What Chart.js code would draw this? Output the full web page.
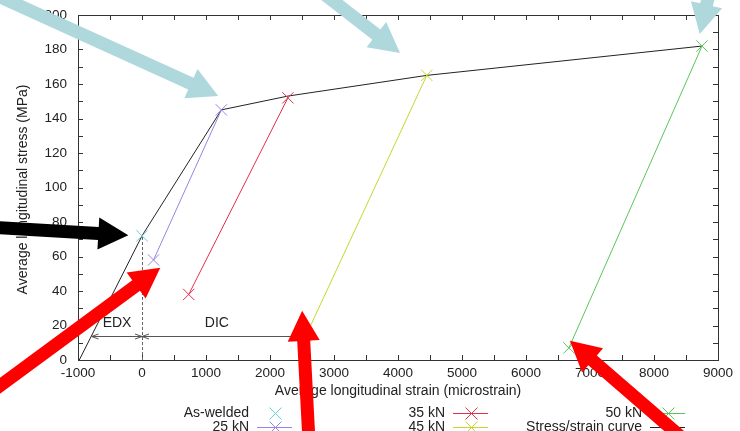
<!DOCTYPE html>
<html>
<head>
<meta charset="utf-8">
<script src="https://cdn.jsdelivr.net/npm/chart.js@4/dist/chart.umd.min.js"></script>
<style>
  html, body { margin: 0; padding: 0; background: #fff; }
  canvas { display: block; }
</style>
</head>
<body>
<canvas id="stressChart" width="740" height="431"></canvas>
<script>
// values (strain in microstrain, stress in MPa)
const asWeldedX = [0];
const asWeldedY = [72];
const kn25X = [180, 1240];
const kn25Y = [58, 145];
const kn35X = [730, 2280];
const kn35Y = [38, 152];
const kn45X = [2560, 4450];
const kn45Y = [14, 165];
const kn50X = [6670, 8750];
const kn50Y = [7, 182];
const curveX = [-980, 0, 1240, 2280, 4450, 8750];
const curveY = [0, 72, 145, 153, 165, 182];

const seriesLabels = ["As-welded", "25 kN", "35 kN", "45 kN", "50 kN", "Stress/strain curve"];
const seriesColors = ["#66cfdc", "#9585e0", "#e3304c", "#c6d62e", "#5cc45c", "#222222"];

const xTicks = { min: -1000, max: 9000, step: 500, labelEvery: 1000 };
const yTicks = { min: 0, max: 200, step: 10, labelEvery: 20 };

// EDX / DIC dimension line
const dimY = 14;
const edxRange = [-789, 0];
const dicRange = [0, 2560];

// overlaid pointer arrows, in data units
const pointers = [
    { from: [-2368, 213], to: [1191, 153], color: "#aed8dc" },
    { from: [2783, 214], to: [4032, 178], color: "#aed8dc" },
    { from: [8871, 214], to: [8715, 189], color: "#aed8dc" },
    { from: [-2368, 77], to: [-214, 72.3], color: "#000000" },
    { from: [-2368, -19], to: [286, 53.5], color: "#ff0000" },
    { from: [2612, -49], to: [2502, 28.5], color: "#ff0000" },
    { from: [8559, -49], to: [6686, 11.2], color: "#ff0000" }
];

const FONT = "'Liberation Sans', Arial, Helvetica, sans-serif";

function pts(xs, ys) {
    return xs.map((x, i) => ({ x: x, y: ys[i] }));
}

function series(i, xs, ys, withLine, withPoints) {
    const color = seriesColors[i];
    return {
        label: seriesLabels[i],
        data: pts(xs, ys),
        showLine: withLine,
        borderColor: color,
        backgroundColor: color,
        borderWidth: 1,
        pointStyle: "crossRot",
        pointRadius: withPoints ? 8 : 0,
        pointBorderWidth: 1,
        pointBorderColor: color
    };
}

const datasets = [
    series(0, asWeldedX, asWeldedY, false, true),
    series(1, kn25X, kn25Y, true, true),
    series(2, kn35X, kn35Y, true, true),
    series(3, kn45X, kn45Y, true, true),
    series(4, kn50X, kn50Y, true, true),
    series(5, curveX, curveY, true, false)
];

function drawPointer(ctx, sx, sy, tx, ty, color) {
    const w = 13, hl = 30, hw = 32;
    const dx = tx - sx, dy = ty - sy;
    const len = Math.hypot(dx, dy);
    const ux = dx / len, uy = dy / len;
    const nx = -uy, ny = ux;
    const bx = tx - ux * hl, by = ty - uy * hl;
    ctx.beginPath();
    ctx.moveTo(sx + nx * w / 2, sy + ny * w / 2);
    ctx.lineTo(bx + nx * w / 2, by + ny * w / 2);
    ctx.lineTo(bx + nx * hw / 2, by + ny * hw / 2);
    ctx.lineTo(tx, ty);
    ctx.lineTo(bx - nx * hw / 2, by - ny * hw / 2);
    ctx.lineTo(bx - nx * w / 2, by - ny * w / 2);
    ctx.lineTo(sx - nx * w / 2, sy - ny * w / 2);
    ctx.closePath();
    ctx.fillStyle = color;
    ctx.fill();
}

function smallHead(ctx, x, y, dir) {
    // open gnuplot-style head pointing in direction dir (+1 right, -1 left)
    ctx.beginPath();
    ctx.moveTo(x - dir * 7, y - 2.5);
    ctx.lineTo(x, y);
    ctx.lineTo(x - dir * 7, y + 2.5);
    ctx.stroke();
}

function drawMarker(ctx, cx, cy, color) {
    ctx.strokeStyle = color;
    ctx.lineWidth = 1;
    ctx.beginPath();
    ctx.moveTo(cx - 6, cy - 6); ctx.lineTo(cx + 6, cy + 6);
    ctx.moveTo(cx + 6, cy - 6); ctx.lineTo(cx - 6, cy + 6);
    ctx.stroke();
}

const gnuplotLook = {
    id: "gnuplotLook",
    afterDraw(chart) {
        const ctx = chart.ctx;
        const xs = chart.scales.x, ys = chart.scales.y;
        const a = chart.chartArea;
        ctx.save();
        ctx.lineWidth = 1;

        // frame
        ctx.strokeStyle = "#333";
        ctx.strokeRect(a.left + 0.5, a.top + 0.5, a.right - a.left, a.bottom - a.top);

        // inward ticks on all sides
        ctx.beginPath();
        xs.ticks.forEach(t => {
            const px = Math.round(xs.getPixelForValue(t.value)) + 0.5;
            ctx.moveTo(px, a.bottom); ctx.lineTo(px, a.bottom - 5);
            ctx.moveTo(px, a.top); ctx.lineTo(px, a.top + 5);
        });
        ys.ticks.forEach(t => {
            const py = Math.round(ys.getPixelForValue(t.value)) + 0.5;
            ctx.moveTo(a.left, py); ctx.lineTo(a.left + 5, py);
            ctx.moveTo(a.right, py); ctx.lineTo(a.right - 5, py);
        });
        ctx.stroke();

        // dashed guide at zero strain
        const x0 = Math.round(xs.getPixelForValue(0)) + 0.5;
        ctx.strokeStyle = "#666";
        ctx.setLineDash([3, 2]);
        ctx.beginPath();
        ctx.moveTo(x0, ys.getPixelForValue(0));
        ctx.lineTo(x0, ys.getPixelForValue(asWeldedY[0]));
        ctx.stroke();
        ctx.setLineDash([]);

        // EDX / DIC dimension line
        const dy = Math.round(ys.getPixelForValue(dimY)) + 0.5;
        ctx.strokeStyle = "#555";
        [edxRange, dicRange].forEach(r => {
            const p1 = xs.getPixelForValue(r[0]), p2 = xs.getPixelForValue(r[1]);
            ctx.beginPath();
            ctx.moveTo(p1, dy); ctx.lineTo(p2, dy);
            ctx.stroke();
            smallHead(ctx, p1, dy, -1);
            smallHead(ctx, p2, dy, 1);
        });
        ctx.fillStyle = "#222";
        ctx.font = "14px " + FONT;
        ctx.textAlign = "center";
        ctx.textBaseline = "middle";
        ctx.fillText("EDX", xs.getPixelForValue(-390), ys.getPixelForValue(21.5));
        ctx.fillText("DIC", xs.getPixelForValue(1170), ys.getPixelForValue(21.5));

        // axis titles
        ctx.fillText("Average longitudinal strain (microstrain)", (a.left + a.right) / 2, 391);
        ctx.save();
        ctx.translate(23, (a.top + a.bottom) / 2 + 2);
        ctx.rotate(-Math.PI / 2);
        ctx.fillText("Average longitudinal stress (MPa)", 0, 0);
        ctx.restore();

        // legend, three columns like gnuplot
        const cols = [
            { textRight: 249, s0: 257, s1: 292 },
            { textRight: 445, s0: 453, s1: 488 },
            { textRight: 642, s0: 650, s1: 685 }
        ];
        const rows = [413, 427];
        ctx.textAlign = "right";
        datasets.forEach((ds, i) => {
            const c = cols[Math.floor(i / 2)];
            const ry = rows[i % 2];
            const color = seriesColors[i];
            ctx.fillStyle = "#222";
            ctx.fillText(seriesLabels[i], c.textRight, ry);
            const ly = Math.round(ry) + 0.5;
            if (ds.showLine) {
                ctx.strokeStyle = color;
                ctx.beginPath();
                ctx.moveTo(c.s0, ly); ctx.lineTo(c.s1, ly);
                ctx.stroke();
            }
            if (ds.pointRadius > 0) drawMarker(ctx, Math.round((c.s0 + c.s1) / 2) + 0.5, ly, color);
        });

        // overlaid pointer arrows
        pointers.forEach(p => {
            drawPointer(ctx,
                xs.getPixelForValue(p.from[0]), ys.getPixelForValue(p.from[1]),
                xs.getPixelForValue(p.to[0]), ys.getPixelForValue(p.to[1]),
                p.color);
        });

        ctx.restore();
    }
};

new Chart(document.getElementById("stressChart"), {
    type: "scatter",
    data: { datasets: datasets },
    options: {
        responsive: false,
        animation: false,
        layout: { padding: { top: 15, right: 22, left: 0, bottom: 0 } },
        plugins: {
            legend: { display: false },
            tooltip: { enabled: false }
        },
        scales: {
            x: {
                type: "linear",
                min: xTicks.min,
                max: xTicks.max,
                grid: { display: false },
                border: { display: false },
                ticks: {
                    stepSize: xTicks.step,
                    autoSkip: false,
                    maxRotation: 0,
                    padding: -3,
                    color: "#222",
                    font: { family: FONT, size: 13.5 },
                    callback: v => (v % xTicks.labelEvery === 0 ? v : "")
                },
                afterFit: s => { s.height = 71; }
            },
            y: {
                type: "linear",
                min: yTicks.min,
                max: yTicks.max,
                grid: { display: false },
                border: { display: false },
                ticks: {
                    stepSize: yTicks.step,
                    autoSkip: false,
                    padding: 3,
                    color: "#222",
                    font: { family: FONT, size: 13.5 },
                    callback: v => (v % yTicks.labelEvery === 0 ? v : "")
                },
                afterFit: s => { s.width = 78; }
            }
        }
    },
    plugins: [gnuplotLook]
});
</script>
</body>
</html>
